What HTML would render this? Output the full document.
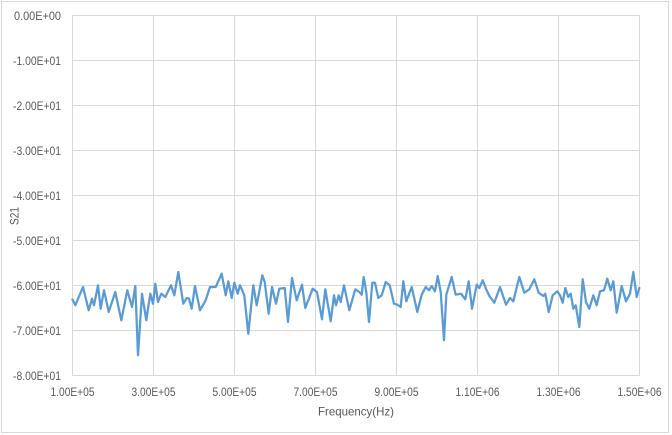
<!DOCTYPE html>
<html>
<head>
<meta charset="utf-8">
<style>
  html, body { margin: 0; padding: 0; background: #ffffff; }
  svg { display: block; }
  text { font-family: "Liberation Sans", "DejaVu Sans", sans-serif; fill: #595959; }
</style>
</head>
<body>
<svg width="672" height="435" viewBox="0 0 672 435" xmlns="http://www.w3.org/2000/svg">
  <rect x="0" y="0" width="672" height="435" fill="#ffffff"/>
  <!-- chart border -->
  <rect x="1.5" y="1.5" width="667" height="431" fill="none" stroke="#d9d9d9" stroke-width="1"/>

  <!-- horizontal gridlines -->
  <g stroke="#d9d9d9" stroke-width="1" shape-rendering="crispEdges">
    <line x1="72" y1="15.5" x2="640" y2="15.5"/>
    <line x1="72" y1="60.5" x2="640" y2="60.5"/>
    <line x1="72" y1="105.5" x2="640" y2="105.5"/>
    <line x1="72" y1="150.5" x2="640" y2="150.5"/>
    <line x1="72" y1="195.5" x2="640" y2="195.5"/>
    <line x1="72" y1="240.5" x2="640" y2="240.5"/>
    <line x1="72" y1="285.5" x2="640" y2="285.5"/>
    <line x1="72" y1="330.5" x2="640" y2="330.5"/>
    <line x1="72" y1="375.5" x2="640" y2="375.5"/>
    <!-- vertical gridlines -->
    <line x1="72.5" y1="15" x2="72.5" y2="376"/>
    <line x1="153.5" y1="15" x2="153.5" y2="376"/>
    <line x1="234.5" y1="15" x2="234.5" y2="376"/>
    <line x1="315.5" y1="15" x2="315.5" y2="376"/>
    <line x1="396.5" y1="15" x2="396.5" y2="376"/>
    <line x1="477.5" y1="15" x2="477.5" y2="376"/>
    <line x1="558.5" y1="15" x2="558.5" y2="376"/>
    <line x1="639.5" y1="15" x2="639.5" y2="376"/>
  </g>

  <!-- y tick labels -->
  <g font-size="11.5" text-anchor="end">
    <text x="61" y="19.8" textLength="47" lengthAdjust="spacingAndGlyphs">0.00E+00</text>
    <text x="61" y="64.8" textLength="48" lengthAdjust="spacingAndGlyphs">-1.00E+01</text>
    <text x="61" y="109.8" textLength="48" lengthAdjust="spacingAndGlyphs">-2.00E+01</text>
    <text x="61" y="154.8" textLength="48" lengthAdjust="spacingAndGlyphs">-3.00E+01</text>
    <text x="61" y="199.8" textLength="48" lengthAdjust="spacingAndGlyphs">-4.00E+01</text>
    <text x="61" y="244.8" textLength="48" lengthAdjust="spacingAndGlyphs">-5.00E+01</text>
    <text x="61" y="289.8" textLength="48" lengthAdjust="spacingAndGlyphs">-6.00E+01</text>
    <text x="61" y="334.8" textLength="48" lengthAdjust="spacingAndGlyphs">-7.00E+01</text>
    <text x="61" y="379.8" textLength="48" lengthAdjust="spacingAndGlyphs">-8.00E+01</text>
  </g>

  <!-- x tick labels -->
  <g font-size="11.5" text-anchor="middle">
    <text x="72.5" y="395.8" textLength="44" lengthAdjust="spacingAndGlyphs">1.00E+05</text>
    <text x="153.5" y="395.8" textLength="44" lengthAdjust="spacingAndGlyphs">3.00E+05</text>
    <text x="234.5" y="395.8" textLength="44" lengthAdjust="spacingAndGlyphs">5.00E+05</text>
    <text x="315.5" y="395.8" textLength="44" lengthAdjust="spacingAndGlyphs">7.00E+05</text>
    <text x="396.5" y="395.8" textLength="44" lengthAdjust="spacingAndGlyphs">9.00E+05</text>
    <text x="477.5" y="395.8" textLength="44" lengthAdjust="spacingAndGlyphs">1.10E+06</text>
    <text x="558.5" y="395.8" textLength="44" lengthAdjust="spacingAndGlyphs">1.30E+06</text>
    <text x="639.5" y="395.8" textLength="44" lengthAdjust="spacingAndGlyphs">1.50E+06</text>
  </g>

  <!-- axis titles -->
  <text x="356" y="415.7" font-size="12" text-anchor="middle" textLength="76" lengthAdjust="spacingAndGlyphs">Frequency(Hz)</text>
  <text transform="translate(18.5,216) rotate(-90)" x="0" y="0" font-size="12" text-anchor="middle" textLength="18" lengthAdjust="spacingAndGlyphs">S21</text>

  <!-- data series -->
  <polyline fill="none" stroke="#5b9bd5" stroke-width="2.25" stroke-linejoin="round" stroke-linecap="round"
    points="72.5,299.5 75.3,305.3 83,287 88.7,310.3 92,298.7 94,305.3 98,285.3 100.7,308.7 104,290.3 108.7,312 115.3,292 121.3,320.3 127.3,290.3 132,307 135.3,286 138,355.3 142,293.7 146.3,320.3 150.3,293.7 153,303.7 155.3,283.7 158,302 161.3,293.7 165.3,297 171,285.3 174.3,295.3 178.3,272 183.3,303.7 186.7,298 189,298.7 191.7,308.7 195,286 200,310.3 205.7,300.3 210,287 215.7,287 221.7,273.7 225.7,295.3 228.3,281.3 231.7,298 234.3,282.7 237.7,293.7 240,285.3 244.3,295.3 248.3,333.7 253.3,285.3 256.7,305.3 262.3,275.3 264.7,282 268.7,313.7 272,287 276,303.7 279.3,288.7 284.7,288 288,322 292,278 296.7,300.3 302,284.7 305.3,308 312.7,288.7 317,292 322,319.3 325.3,289.3 330.7,321.3 334,295.3 336,305.3 338.7,295.3 340.7,302 344,285.3 349.3,310.3 355.3,289.3 359.3,292 361.7,294.7 363.7,277 366.3,292 369,322 372.3,282.7 375,282.7 378.3,298 381.7,295.3 385.7,282 389.7,285.3 394,303.7 397.3,304.7 400.7,307 403.3,281.3 406.3,301.3 411.7,287 417.3,312 421.7,294.7 425.7,287 429,290.3 431.7,286 435,291.3 437.7,276 440.7,292 444,340.3 446.3,294.7 451.7,277 455.7,294.7 461,293.7 465.3,299.3 468.7,281.3 472,308.7 476.7,284.7 479.3,288 482.7,280.3 486,288.7 489.3,296 494.3,302.7 500,287 506,304.7 510,298 513.3,301.3 519.3,277 524.3,292.7 529.3,289.3 534.3,279.3 538.7,292.7 543.3,296 545.3,293.7 548.7,312 552.7,295.3 557.3,291.3 560,295.3 562.7,302.7 565.3,288 568.3,297 570.7,293.7 573.3,308.7 575.7,305.3 579.3,327 582.7,279.3 586,302 589.3,308.7 593.3,295.3 596.7,305.3 600,291.3 604,290.3 607.3,278.7 610.7,290.3 613.3,281.3 616.7,312.7 621.7,286 626,301.3 630,293.7 633.3,272 636.7,297 639.3,288"/>
</svg>
</body>
</html>
